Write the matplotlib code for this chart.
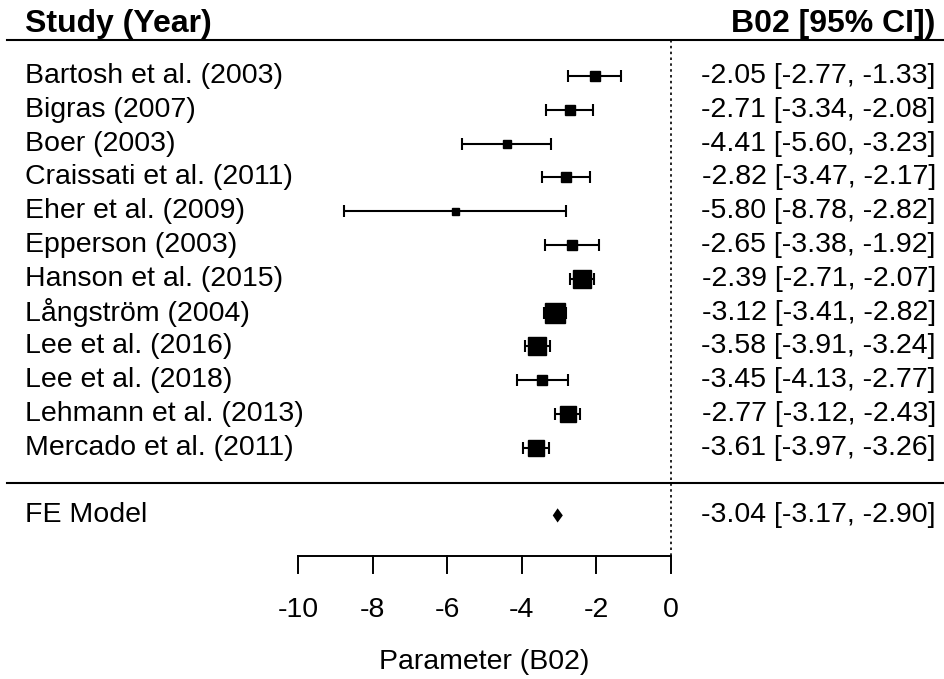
import numpy as np
import matplotlib
matplotlib.use("Agg")
from matplotlib import pyplot as plt

studies = ["Bartosh et al. (2003)", "Bigras (2007)", "Boer (2003)",
           "Craissati et al. (2011)", "Eher et al. (2009)", "Epperson (2003)",
           "Hanson et al. (2015)", "Långström (2004)", "Lee et al. (2016)",
           "Lee et al. (2018)", "Lehmann et al. (2013)", "Mercado et al. (2011)"]
est = [-2.05, -2.71, -4.41, -2.82, -5.80, -2.65, -2.39, -3.12, -3.58, -3.45, -2.77, -3.61]
lo = [-2.77, -3.34, -5.60, -3.47, -8.78, -3.38, -2.71, -3.41, -3.91, -4.13, -3.12, -3.97]
hi = [-1.33, -2.08, -3.23, -2.17, -2.82, -1.92, -2.07, -2.82, -3.24, -2.77, -2.43, -3.26]

fe_label = "FE Model"
fe_est, fe_lo, fe_hi = -3.04, -3.17, -2.90

xticks = [-10, -8, -6, -4, -2, 0]

plt.rcParams['font.family'] = ['Liberation Sans', 'DejaVu Sans']
fs = 20.5
fs_bold = 23

fig = plt.figure(figsize=(9.44, 6.79), dpi=100)
ax = fig.add_axes([0, 0, 1, 1])
ax.set_xlim(-17.99, 7.32)
ax.set_ylim(17.84, -2.25)
ax.axis("off")

est = np.array(est)
lo = np.array(lo)
hi = np.array(hi)
rows = np.arange(len(studies))

# tamanho dos quadrados pelo peso (1/variancia)
se = (hi - lo) / 3.92
w = 1 / se**2
wn = (w - w.min()) / (w.max() - w.min())
px = 7 + 13 * wn

for r, e, l, h, s in zip(rows, est, lo, hi, px):
    ax.errorbar(e, r, xerr=[[e - l], [h - e]], fmt="none", ecolor="black",
                elinewidth=1.5, capsize=4, capthick=1.5)
    ax.plot(e, r, marker="s", color="black", markersize=s * 72 / 100, lw=0)

fe_row = len(studies) + 1
ax.fill([fe_lo, fe_est, fe_hi, fe_est], [fe_row, fe_row - 0.21, fe_row, fe_row + 0.21],
        color="black", lw=0)

# linhas
ax.plot([-17.8, 7.32], [-1.07, -1.07], color="black", lw=1.5)
ax.plot([-17.8, 7.32], [12.04, 12.04], color="black", lw=1.5)
ax.plot([0, 0], [-1.07, 14.2], color="black", lw=1.2, linestyle=(0, (1.5, 2)))

# eixo x
ax.plot([xticks[0], xticks[-1]], [14.2, 14.2], color="black", lw=1.4)
for t in xticks:
    ax.plot([t, t], [14.2, 14.7], color="black", lw=1.4)
    ax.text(t, 15.8, str(t), ha="center", va="center", fontsize=fs)
ax.text(np.mean([xticks[0], xticks[-1]]), 17.35, "Parameter (B02)",
        ha="center", va="center", fontsize=fs)

# textos
ax.text(-17.32, -1.55, "Study (Year)", ha="left", va="center", fontsize=fs_bold, fontweight="bold")
ax.text(7.1, -1.55, "B02 [95% CI])", ha="right", va="center", fontsize=fs_bold, fontweight="bold")
for r, name, e, l, h in zip(rows, studies, est, lo, hi):
    ax.text(-17.32, r, name, ha="left", va="center", fontsize=fs)
    ax.text(7.1, r, f"{e:.2f} [{l:.2f}, {h:.2f}]", ha="right", va="center", fontsize=fs)
ax.text(-17.32, fe_row, fe_label, ha="left", va="center", fontsize=fs)
ax.text(7.1, fe_row, f"{fe_est:.2f} [{fe_lo:.2f}, {fe_hi:.2f}]", ha="right", va="center", fontsize=fs)

fig.savefig("out.png", dpi=100)
